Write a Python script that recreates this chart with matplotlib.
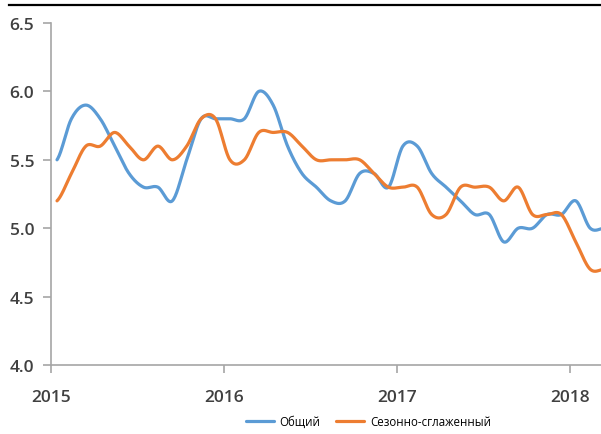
import numpy as np
import matplotlib
matplotlib.use("Agg")
import matplotlib.pyplot as plt
from matplotlib.lines import Line2D

# monthly values, Jan 2015 .. Mar 2018
obshchiy = [5.5, 5.8, 5.9, 5.8, 5.6, 5.4, 5.3, 5.3, 5.2, 5.5, 5.8, 5.8,
            5.8, 5.8, 6.0, 5.9, 5.6, 5.4, 5.3, 5.2, 5.2, 5.4, 5.4, 5.3,
            5.6, 5.6, 5.4, 5.3, 5.2, 5.1, 5.1, 4.9, 5.0, 5.0, 5.1, 5.1,
            5.2, 5.0, 5.0]
sezonno = [5.2, 5.4, 5.6, 5.6, 5.7, 5.6, 5.5, 5.6, 5.5, 5.6, 5.8, 5.8,
           5.5, 5.5, 5.7, 5.7, 5.7, 5.6, 5.5, 5.5, 5.5, 5.5, 5.4, 5.3,
           5.3, 5.3, 5.1, 5.1, 5.3, 5.3, 5.3, 5.2, 5.3, 5.1, 5.1, 5.1,
           4.9, 4.7, 4.7]
years = ["2015", "2016", "2017", "2018"]
yticks = [4.0, 4.5, 5.0, 5.5, 6.0, 6.5]

BLUE = "#5B9BD5"
ORANGE = "#ED7D31"


def smooth(y, n=20):
    # catmull-rom curve through the points (like excel's smoothed line)
    y = np.asarray(y, dtype=float)
    p = np.concatenate([[y[0]], y, [y[-1]]])
    xs, ys = [], []
    t = np.linspace(0, 1, n, endpoint=False)
    for i in range(len(y) - 1):
        p0, p1, p2, p3 = p[i], p[i + 1], p[i + 2], p[i + 3]
        seg = 0.5 * ((2 * p1) + (-p0 + p2) * t
                     + (2 * p0 - 5 * p1 + 4 * p2 - p3) * t ** 2
                     + (-p0 + 3 * p1 - 3 * p2 + p3) * t ** 3)
        xs.extend(i + t)
        ys.extend(seg)
    xs.append(len(y) - 1)
    ys.append(y[-1])
    return np.array(xs), np.array(ys)


plt.rcParams["font.family"] = ["Open Sans", "DejaVu Sans"]

fig = plt.figure(figsize=(6.01, 4.35), dpi=100)
ax = fig.add_axes([0.0849, 0.1586, 0.9151, 0.7862])

x1, y1 = smooth(obshchiy)
x2, y2 = smooth(sezonno)
ax.plot(x1, y1, color=BLUE, lw=2.3, label="Общий", solid_capstyle="round")
ax.plot(x2, y2, color=ORANGE, lw=2.3, label="Сезонно-сглаженный", solid_capstyle="round")

off = -0.416
ax.set_xlim(off, 37.75)
ax.set_ylim(4.0, 6.5)
ax.set_xticks([off + 12 * k for k in range(len(years))])
ax.set_xticklabels(years)
ax.set_yticks(yticks)
ax.set_yticklabels([f"{v:.1f}" for v in yticks])

for s in ["top", "right"]:
    ax.spines[s].set_visible(False)
for s in ["left", "bottom"]:
    ax.spines[s].set_color("#a6a6a6")
    ax.spines[s].set_linewidth(1.2)
ax.tick_params(axis="both", colors="#a6a6a6", length=6, width=1.2,
               labelcolor="#404040", labelsize=12.5)
ax.tick_params(axis="x", pad=11)
ax.tick_params(axis="y", pad=6)
for lab in ax.get_xticklabels() + ax.get_yticklabels():
    lab.set_fontweight("semibold")

ax.legend(loc="center", bbox_to_anchor=(0.577, -0.165), ncol=2, frameon=False,
          fontsize=8.3, handlelength=2.4, columnspacing=1.4, handletextpad=0.5)

fig.add_artist(Line2D([0.015, 1.0], [0.986, 0.986], color="black", lw=1.6))

fig.savefig("out.png", dpi=100)
